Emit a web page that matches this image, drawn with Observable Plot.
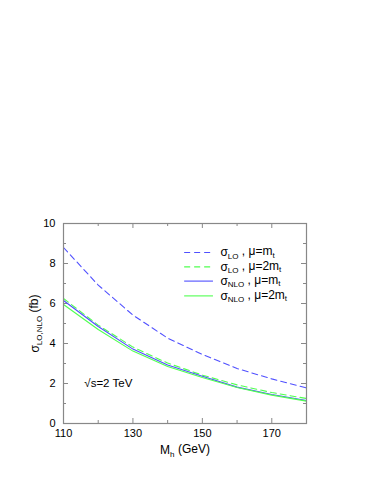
<!DOCTYPE html>
<html><head><meta charset="utf-8">
<script src="https://cdn.jsdelivr.net/npm/d3@7"></script>
<script src="https://cdn.jsdelivr.net/npm/@observablehq/plot@0.6"></script>
<style>body{margin:0;background:#fff}svg{font-family:"Liberation Sans",Arial,sans-serif}</style>
</head><body><div id="chart"></div>
<script>
const masses = [110,120,130,140,150,160,170,180];
const loMt   = [8.80,6.92,5.42,4.27,3.45,2.75,2.23,1.78];
const lo2Mt  = [6.25,4.92,3.82,3.02,2.42,1.93,1.55,1.25];
const nloMt  = [6.15,4.85,3.72,2.92,2.36,1.82,1.45,1.15];
const nlo2Mt = [5.95,4.70,3.62,2.85,2.30,1.80,1.42,1.12];
const seriesNames = ["σ_{LO} , μ=m_{t}","σ_{LO} , μ=2m_{t}","σ_{NLO} , μ=m_{t}","σ_{NLO} , μ=2m_{t}"];
const xTicks = [110,130,150,170];
const xMinor = [120,140,160,180];
const yTicks = [0,2,4,6,8,10];
const yMinor = [1,3,5,7,9];
const legendY = [8.55,7.83,7.12,6.38];

const BLUE = "#5050ff", GREEN = "#50ff50";
const styles = [
  {stroke:BLUE, dash:"6,4"},
  {stroke:GREEN, dash:"6,4"},
  {stroke:BLUE, dash:null},
  {stroke:GREEN, dash:null}
];
const allSeries = [loMt, lo2Mt, nloMt, nlo2Mt];
const data = allSeries.flatMap((vals,i)=>masses.map((m,j)=>({m, v:vals[j], s:i})));

const W=369,H=478;
const xdom=[110,180], ydom=[0,10];
const mL=63,mR=63,mT=223,mB=55;
const pxX=(W-mL-mR)/(xdom[1]-xdom[0]);
const pxY=(H-mT-mB)/(ydom[1]-ydom[0]);
const majX=5/pxX, minX=3/pxX, majY=5/pxY, minY=3/pxY;

const lineMarks = styles.map((st,i)=>Plot.line(data.filter(d=>d.s===i),{x:"m",y:"v",stroke:st.stroke,strokeWidth:1.1,strokeDasharray:st.dash,curve:"linear"}));
const legendMarks = styles.flatMap((st,i)=>[
  Plot.ruleY([legendY[i]],{x1:144.9,x2:153.2,stroke:st.stroke,strokeWidth:1.1,strokeDasharray:st.dash}),
  Plot.text([seriesNames[i]],{x:155.2,y:legendY[i],text:d=>d,textAnchor:"start",fontSize:12,fill:"#000"})
]);

const chart = Plot.plot({
  width:W,height:H,
  marginLeft:mL,marginRight:mR,marginTop:mT,marginBottom:mB,
  x:{domain:xdom},
  y:{domain:ydom},
  style:{fontFamily:"Liberation Sans, Arial, sans-serif",fontSize:"11px",color:"#000",background:"#fff"},
  marks:[
    Plot.axisX(xTicks,{tickSize:0,tickPadding:6,fontSize:11,label:null,tickFormat:d=>String(d)}),
    Plot.axisY(yTicks,{tickSize:0,tickPadding:8,fontSize:11,label:null}),
    Plot.ruleX(xTicks,{y1:0,y2:majY,stroke:"#888"}),
    Plot.ruleX(xTicks,{y1:10,y2:10-majY,stroke:"#888"}),
    Plot.ruleX(xMinor,{y1:0,y2:minY,stroke:"#888"}),
    Plot.ruleX(xMinor,{y1:10,y2:10-minY,stroke:"#888"}),
    Plot.ruleY(yTicks,{x1:110,x2:110+majX,stroke:"#888"}),
    Plot.ruleY(yTicks,{x1:180,x2:180-majX,stroke:"#888"}),
    Plot.ruleY(yMinor,{x1:110,x2:110+minX,stroke:"#888"}),
    Plot.ruleY(yMinor,{x1:180,x2:180-minX,stroke:"#888"}),
    ...lineMarks,
    Plot.frame({stroke:"#888",strokeWidth:1.2}),
    ...legendMarks,
    Plot.text(["√s=2 TeV"],{x:116,y:2.0,text:d=>d,textAnchor:"start",fontSize:11.5,fill:"#000"}),
    Plot.text(["M_{h} (GeV)"],{x:145,y:0,dy:27,text:d=>d,fontSize:12,fill:"#000"}),
    Plot.text(["σ_{LO,NLO} (fb)"],{x:110,y:5,dx:-28,rotate:-90,text:d=>d,fontSize:12,fill:"#000"})
  ]
});
document.getElementById("chart").appendChild(chart);

// convert _{...} into subscript tspans
d3.select(chart).selectAll("text").each(function(){
  const t=this.textContent;
  if(!t.includes("_{")) return;
  const sel=d3.select(this);
  sel.text(null);
  const parts=t.split(/(_\{[^}]*\})/);
  let sub=false;
  parts.forEach(p=>{
    if(!p) return;
    if(p.startsWith("_{")){
      sel.append("tspan").attr("dy","0.3em").attr("font-size","8px").text(p.slice(2,-1));
      sub=true;
    } else {
      const ts=sel.append("tspan").text(p);
      if(sub){ts.attr("dy","-0.3em"); sub=false;}
    }
  });
});
</script></body></html>
